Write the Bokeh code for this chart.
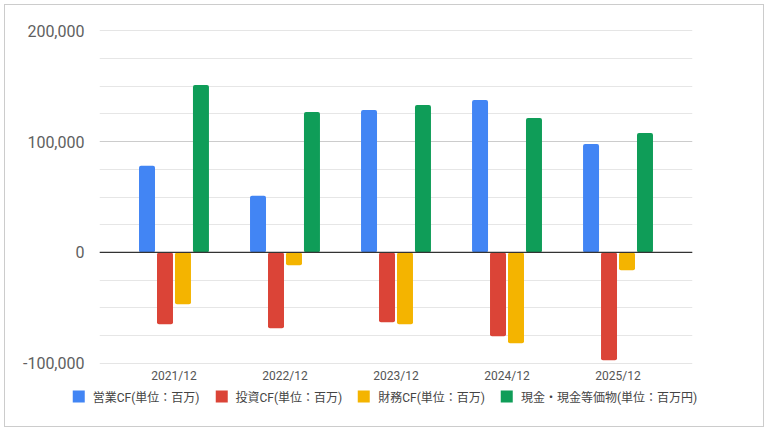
from bokeh.plotting import figure
from bokeh.layouts import column
from bokeh.models import (FactorRange, ColumnDataSource, Legend, LegendItem, Span,
                          NumeralTickFormatter, FixedTicker, Range1d)
from bokeh.transform import dodge
from bokeh.embed import file_html
from bokeh.resources import INLINE

categories = ["2021/12", "2022/12", "2023/12", "2024/12", "2025/12"]
series_names = ["営業CF(単位：百万)", "投資CF(単位：百万)", "財務CF(単位：百万)", "現金・現金等価物(単位：百万円)"]
operating_cf = [78100, 51100, 128600, 137600, 97900]
investing_cf = [-64900, -68500, -63000, -75700, -97300]
financing_cf = [-46800, -11700, -64900, -82000, -16200]
cash_equiv = [151100, 126800, 133100, 121400, 107800]
y_major_ticks = [-100000, 0, 100000, 200000]
y_minor_ticks = [-75000, -50000, -25000, 25000, 50000, 75000, 125000, 150000, 175000]

colors = ["#4285F4", "#DB4437", "#F4B400", "#0F9D58"]
offsets = [-0.243, -0.081, 0.081, 0.243]
FONT = "Roboto, Noto Sans CJK JP"

src = ColumnDataSource(dict(cat=categories, s0=operating_cf, s1=investing_cf,
                            s2=financing_cf, s3=cash_equiv))

p = figure(x_range=FactorRange(factors=categories, range_padding=0.171,
                               range_padding_units="absolute"),
           y_range=Range1d(-100300, 200300),
           frame_width=593, frame_height=333,
           min_border_left=94, min_border_right=71, min_border_top=25, min_border_bottom=19,
           output_backend="svg", toolbar_location=None)
p.outline_line_color = None
p.background_fill_color = "white"
p.border_fill_color = "white"

for i, col in enumerate(["s0", "s1", "s2", "s3"]):
    p.vbar(x=dodge("cat", offsets[i], range=p.x_range), top=col, bottom=0, width=0.144,
           source=src, fill_color=colors[i], line_color=None, border_radius=2)

p.xgrid.grid_line_color = None
p.ygrid.ticker = FixedTicker(ticks=y_major_ticks, minor_ticks=y_minor_ticks)
p.ygrid.grid_line_color = "#cccccc"
p.ygrid.minor_grid_line_color = "#e6e6e6"

p.add_layout(Span(location=0, dimension="width", line_color="#333333", line_width=1.2))

p.yaxis.ticker = FixedTicker(ticks=y_major_ticks, minor_ticks=y_minor_ticks)
p.yaxis.formatter = NumeralTickFormatter(format="0,0")
p.yaxis.axis_line_color = None
p.yaxis.major_tick_line_color = None
p.yaxis.minor_tick_line_color = None
p.yaxis.major_label_standoff = 9
p.yaxis.major_label_text_font = "Roboto"
p.yaxis.major_label_text_font_size = "16px"
p.yaxis.major_label_text_color = "#5f5f5f"

p.xaxis.axis_line_color = None
p.xaxis.major_tick_line_color = None
p.xaxis.minor_tick_line_color = None
p.xaxis.major_tick_out = 0
p.xaxis.major_label_standoff = 5
p.xaxis.major_label_text_font = "Roboto"
p.xaxis.major_label_text_font_size = "12px"
p.xaxis.major_label_text_color = "#555555"

# legend strip (a second figure holding only the legend)
lg = figure(x_range=FactorRange(factors=categories), y_range=Range1d(0, 1),
            frame_width=758, frame_height=21,
            min_border_left=0, min_border_right=0, min_border_top=0, min_border_bottom=20,
            output_backend="svg", toolbar_location=None)
lg.axis.visible = False
lg.grid.grid_line_color = None
lg.outline_line_color = None
# zero-height bars (invisible); they only supply the legend swatches
leg_renderers = [lg.vbar(x="cat", top=0, bottom=0, width=0.1, source=src,
                         fill_color=colors[i], line_color=None) for i in range(4)]
legend = Legend(items=[LegendItem(label=series_names[i], renderers=[leg_renderers[i]]) for i in range(4)],
                orientation="horizontal", location="center",
                glyph_width=15, glyph_height=15, label_height=15, label_standoff=7,
                spacing=14, padding=0, margin=0, border_line_color=None,
                background_fill_alpha=0,
                label_text_font=FONT, label_text_font_size="12px",
                label_text_color="#444444")
lg.add_layout(legend, "center")

layout = column(p, lg, spacing=0,
                styles={"border": "1px solid #cccccc", "margin": "4px 0 0 4px"})

open("out.html", "w").write(file_html(layout, INLINE))
